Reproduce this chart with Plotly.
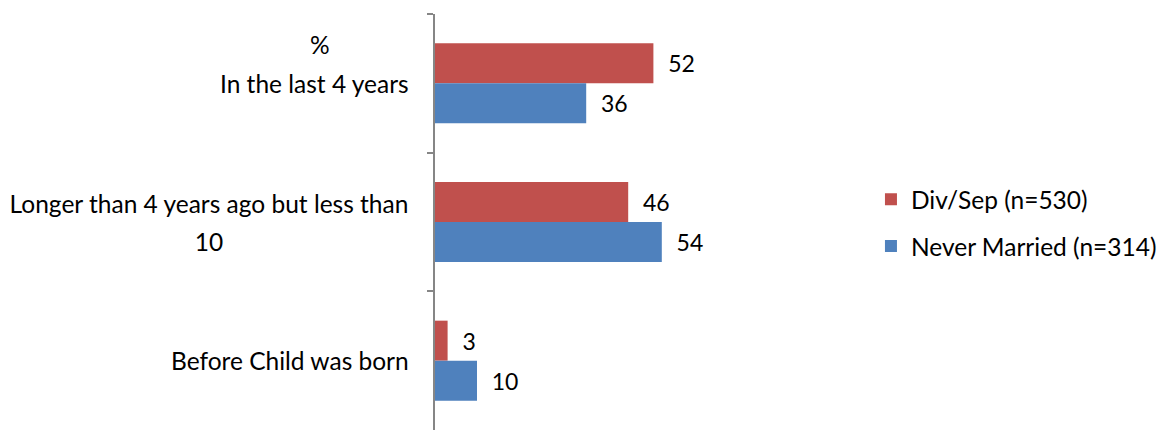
import plotly.graph_objects as go

categories = ["In the last 4 years", "Longer than 4 years ago but less than 10", "Before Child was born"]
label_lines = [["In the last 4 years"], ["Longer than 4 years ago but less than", "10"], ["Before Child was born"]]
div_sep = [52, 46, 3]
never_married = [36, 54, 10]
series_names = ["Div/Sep (n=530)", "Never Married (n=314)"]
colors = ["#C0504D", "#4F81BD"]

FONT = "Lato"
fig = go.Figure()
for name, vals, col in zip(series_names, [div_sep, never_married], colors):
    fig.add_trace(go.Bar(
        y=categories, x=vals, orientation="h", name=name,
        marker=dict(color=col, line=dict(width=0)),
        text=[str(v) for v in vals], texttemplate="\u00a0\u00a0%{text}",
        textposition="outside",
        textfont=dict(family=FONT, size=23, color="#000000"),
        cliponaxis=False, legendgroup=name,
    ))

annotations = []
for cat, lines in zip(categories, label_lines):
    n = len(lines)
    for i, ln in enumerate(lines):
        shift = (-(i - (n - 1) / 2)) * 38
        ann = dict(
            x=0, xref="paper", y=cat, yref="y", text=ln, showarrow=False,
            xanchor="right", yanchor="middle", xshift=-24, yshift=shift,
            font=dict(family=FONT, size=24.5, color="#000000"),
        )
        if n > 1:
            ann.update(width=400, align="center")
        annotations.append(ann)
annotations.append(dict(
    x=0, xref="paper", y=categories[0], yref="y", text="%", showarrow=False,
    xanchor="center", yanchor="middle", xshift=-115, yshift=39,
    font=dict(family=FONT, size=24.5, color="#000000"),
))

fig.update_layout(
    width=1173, height=430,
    margin=dict(l=435, r=318, t=14, b=0),
    paper_bgcolor="white", plot_bgcolor="white",
    barmode="group", bargap=0.423, bargroupgap=0,
    showlegend=True,
    legend=dict(x=1.038, y=0.498, xanchor="left", yanchor="middle",
                font=dict(family=FONT, size=24.5, color="#000000"),
                traceorder="grouped", tracegroupgap=12,
                bgcolor="rgba(0,0,0,0)"),
    annotations=annotations,
    xaxis=dict(range=[0, 100], visible=False),
    yaxis=dict(autorange="reversed", showticklabels=False,
               showline=True, linecolor="#868686", linewidth=1.5,
               ticks="outside", tickson="boundaries", ticklen=6,
               tickcolor="#868686", tickwidth=1.5, showgrid=False, zeroline=False),
)

fig.write_html("out.html")
